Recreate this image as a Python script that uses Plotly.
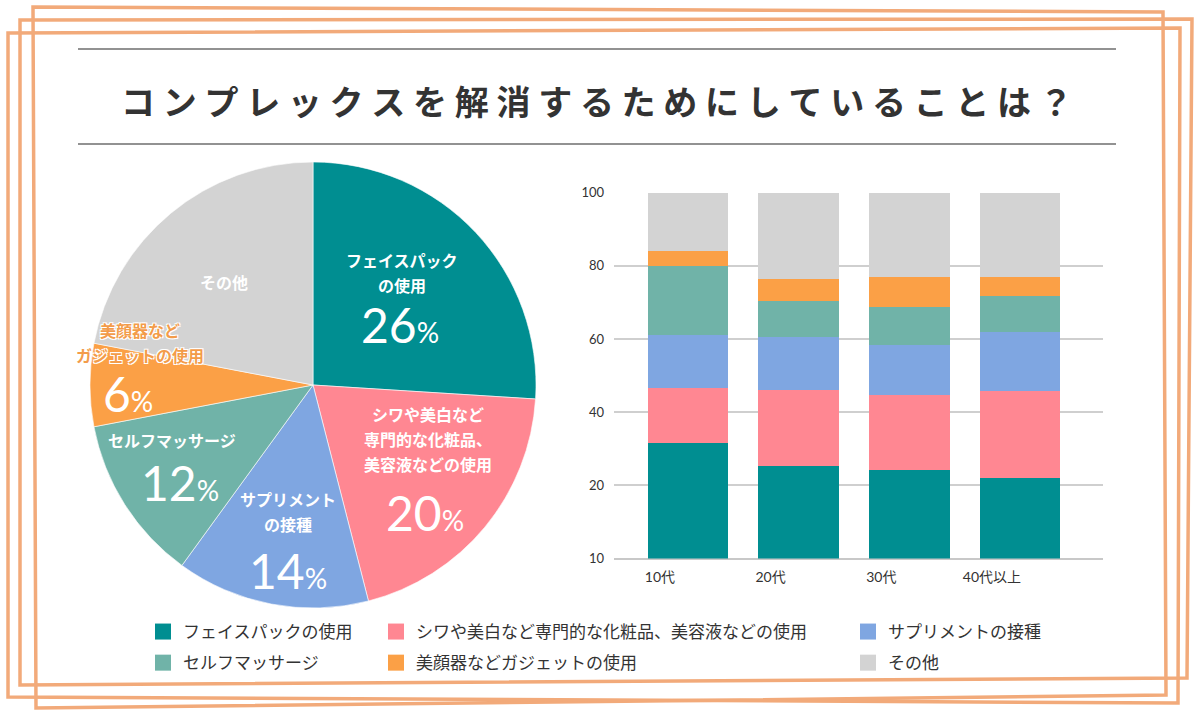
import math
import plotly.graph_objects as go

W, H = 1200, 716
JP = "'Noto Sans CJK JP', 'Noto Sans', sans-serif"
NUM = "Lato, 'Noto Sans CJK JP', sans-serif"

# ── Data ──────────────────────────────────────────────────────────────
SERIES = [
    "フェイスパックの使用",
    "シワや美白など専門的な化粧品、美容液などの使用",
    "サプリメントの接種",
    "セルフマッサージ",
    "美顔器などガジェットの使用",
    "その他",
]
PIE_VALUES = [26, 20, 14, 12, 6, 22]
PIE_TEXT = [
    "フェイスパック<br>の使用",
    "シワや美白など<br>専門的な化粧品、<br>美容液などの使用",
    "サプリメント<br>の接種",
    "セルフマッサージ",
    "美顔器など<br>ガジェットの使用",
    "その他",
]

AGES = ["10代", "20代", "30代", "40代以上"]
# stacked segment heights per age group, bottom → top
BAR_FACE = [31.7, 25.4, 24.2, 22.0]
BAR_WHITE = [15.0, 20.7, 20.5, 23.9]
BAR_SUPP = [14.4, 14.4, 13.7, 15.9]
BAR_MASSAGE = [18.9, 10.0, 10.4, 9.9]
BAR_GADGET = [4.1, 5.9, 8.1, 5.2]
BAR_OTHER = [15.9, 23.6, 23.1, 23.1]
BAR_VALUES = [BAR_FACE, BAR_WHITE, BAR_SUPP, BAR_MASSAGE, BAR_GADGET, BAR_OTHER]

Y_TICKVALS = [0, 20, 40, 60, 80, 100]
Y_TICKTEXT = ["10", "20", "40", "60", "80", "100"]

COLORS = ["#008E91", "#FF8792", "#7FA6E1", "#70B3A8", "#FBA046", "#D3D3D3"]

# ── Geometry (px) ─────────────────────────────────────────────────────
CX, CY, R = 313, 385, 223
LINE_GAP = 25
# percent label: (radius fraction, angle nudge deg, name dx, name dy)
LABEL_POS = [
    (0.474, 8.6, 2, 52),
    (0.76, 9.0, 3, 73),
    (0.84, -3.1, 0, 59),
    (0.74, -4.0, -8, 43),
    (0.83, -2.5, 12, 51),
    (0.61, -1.2, 0, 0),
]

fig = go.Figure()

fig.add_trace(go.Pie(
    values=PIE_VALUES,
    labels=SERIES,
    sort=False,
    direction="clockwise",
    rotation=0,
    textinfo="none",
    marker=dict(colors=COLORS, line=dict(color="rgba(255,255,255,0.6)", width=1)),
    domain=dict(x=[(CX - R) / W, (CX + R) / W], y=[1 - (CY + R) / H, 1 - (CY - R) / H]),
    showlegend=False,
    hoverinfo="label+percent",
))

for vals, name, col in zip(BAR_VALUES, SERIES, COLORS):
    fig.add_trace(go.Bar(
        x=AGES, y=vals, name=name, marker=dict(color=col, line=dict(width=0)),
        xaxis="x", yaxis="y", showlegend=False,
    ))

# legend proxies (three columns, two rows)
LEGEND_OF = ["legend", "legend2", "legend3", "legend", "legend2", "legend3"]
for name, col, lg in zip(SERIES, COLORS, LEGEND_OF):
    fig.add_trace(go.Scatter(
        x=[None], y=[None], mode="markers", name=name, legendgroup=name,
        marker=dict(symbol="square", size=16, color=col),
        legend=lg, xaxis="x", yaxis="y",
    ))

# ── Pie labels, placed from slice angles ──────────────────────────────
total = sum(PIE_VALUES)
start = 0.0
for v, txt, (frac, dth, ndx, ndy) in zip(PIE_VALUES, PIE_TEXT, LABEL_POS):
    mid = (start + v / 2) / total * 360 + dth
    start += v
    px = CX + frac * R * math.sin(math.radians(mid))
    py = CY - frac * R * math.cos(math.radians(mid))
    ax, ay = px / W, 1 - py / H
    is_gadget = txt.startswith("美顔器")
    name_font = dict(family=JP, size=16, color="#F39C4A" if is_gadget else "white", weight="bold")
    if is_gadget:
        name_font["shadow"] = "1px 1px 0 white, -1px -1px 0 white, 1px -1px 0 white, -1px 1px 0 white"
    lines = txt.split("<br>")
    n = len(lines)
    for i, line in enumerate(lines):
        fig.add_annotation(
            x=ax, y=ay, xref="paper", yref="paper", text=line, showarrow=False,
            xanchor="center", yanchor="middle", borderpad=0,
            xshift=ndx, yshift=ndy + ((n - 1) / 2 - i) * LINE_GAP, font=name_font,
        )
    if txt != "その他":
        fig.add_annotation(
            x=ax, y=ay, xref="paper", yref="paper", showarrow=False,
            xanchor="center", yanchor="middle", borderpad=0,
            text=f"{v}<span style='font-size:28px'>%</span>",
            font=dict(family=NUM, size=48, color="white"),
        )

# ── Decorative frame ─────────────────────────────────────────────────
FRAMES = [
    [(33, 7), (1163, 12), (1166, 695), (36, 708)],
    [(20, 20), (1192, 19), (1187, 678), (20, 685)],
    [(8, 33), (1180, 28), (1178, 703), (8, 697)],
]
shapes = []
for pts in FRAMES:
    path = "M " + " L ".join(f"{x / W:.5f},{1 - y / H:.5f}" for x, y in pts) + " Z"
    shapes.append(dict(type="path", xref="paper", yref="paper", path=path,
                       line=dict(color="#F2AA7A", width=3.5), layer="below"))
for yy in (49, 144):
    shapes.append(dict(type="line", xref="paper", yref="paper",
                       x0=78 / W, x1=1116 / W, y0=1 - yy / H, y1=1 - yy / H,
                       line=dict(color="#6E6E6E", width=1.3)))

title = " ".join("コンプレックスを解消するためにしていることは？")
fig.add_annotation(
    x=597 / W, y=1 - 100 / H, xref="paper", yref="paper", showarrow=False,
    xanchor="center", yanchor="middle",
    text=title, font=dict(family=JP, size=34, color="#333333", weight="bold"),
)

legend_common = dict(
    orientation="v", xanchor="left", yanchor="top", y=1 - 614 / H,
    font=dict(family=JP, size=17, color="#333333"),
    bgcolor="rgba(0,0,0,0)", itemwidth=30, tracegroupgap=6, traceorder="grouped",
)

fig.update_layout(
    width=W, height=H,
    margin=dict(l=0, r=0, t=0, b=0, pad=0, autoexpand=False),
    paper_bgcolor="white", plot_bgcolor="white",
    shapes=shapes,
    barmode="stack", bargap=0.27,
    xaxis=dict(
        domain=[614 / W, 1103 / W], anchor="y", automargin=False,
        range=[-0.668, 3.75], showgrid=False, showline=False, zeroline=False,
        tickfont=dict(family=NUM, size=14, color="#333333"),
        ticks="", ticklabelshift=-28, ticklabelstandoff=8,
    ),
    yaxis=dict(
        domain=[1 - 558.5 / H, 1 - 192.7 / H], anchor="x", automargin=False,
        range=[0, 100], tickvals=Y_TICKVALS, ticktext=Y_TICKTEXT,
        showgrid=True, gridcolor="#CFCFCF", gridwidth=1.5,
        zeroline=True, zerolinecolor="#C8C8C8", zerolinewidth=1.5,
        showline=False, ticks="", ticklabelstandoff=9,
        tickfont=dict(family=NUM, size=13, color="#333333"),
    ),
    legend=dict(legend_common, x=143 / W),
    legend2=dict(legend_common, x=376 / W),
    legend3=dict(legend_common, x=848 / W),
)

fig.write_html("out.html", config={"displayModeBar": False},
               post_script="document.body.style.margin='0';")
